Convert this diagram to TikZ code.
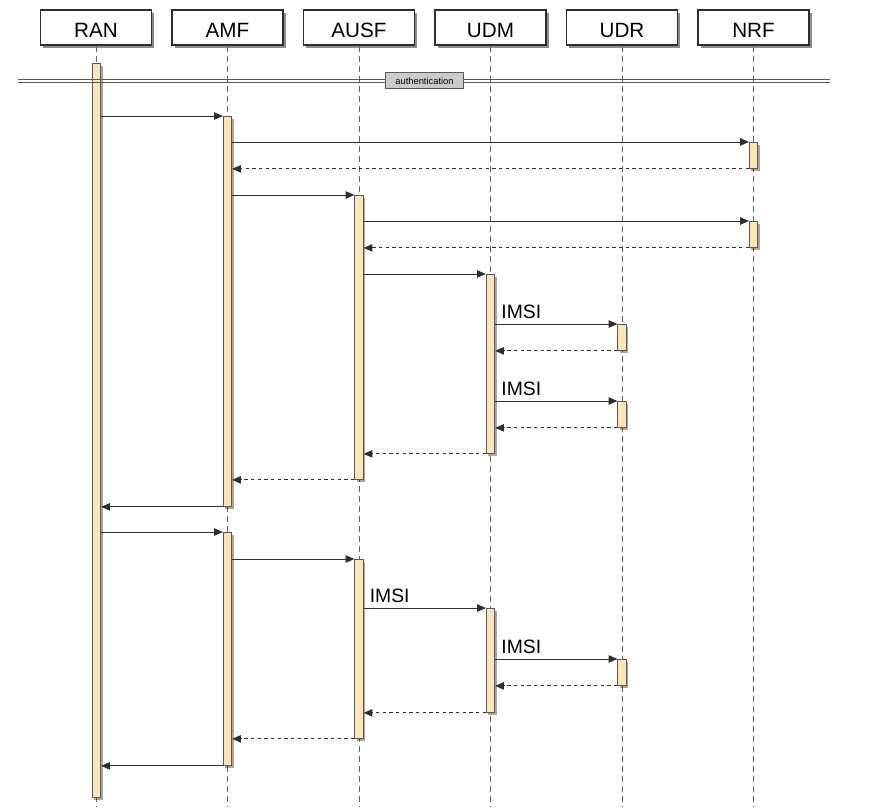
\documentclass[tikz,border=0pt]{standalone}
\usepackage{fontspec}
\setmainfont{Liberation Sans}
\usetikzlibrary{shadows,arrows.meta}
\definecolor{barfill}{HTML}{FFE4B5}
\definecolor{inkline}{HTML}{2E2E2E}
\definecolor{tagfill}{HTML}{CBCBCB}
% activation bar: name, x, top y, bottom y (pixel units)
\newcommand{\actbar}[4]{\node[actbar, minimum height={(#4-#3)*0.75}] (#1) at (#2,#3) {};}

\begin{document}
\begin{tikzpicture}[x=0.75pt,y=-0.75pt,
  participant/.style={draw=inkline, fill=white, line width=0.8pt,
    minimum width=83.25pt, minimum height=26.25pt, inner sep=0pt,
    text height=15.2pt, text depth=0pt,
    font=\fontsize{15.5}{18}\selectfont,
    drop shadow={shadow xshift=2.2pt, shadow yshift=-2.6pt, opacity=0.45, fill=black}},
  lifeline/.style={draw=black!60, line width=0.65pt, dash pattern=on 4.5pt off 3pt},
  actbar/.style={draw=black!65, fill=barfill, line width=0.65pt,
    minimum width=6.25pt, inner sep=0pt, anchor=north,
    drop shadow={shadow xshift=1.6pt, shadow yshift=-1.6pt, opacity=0.35, fill=black}},
  divider/.style={draw=black!65, line width=0.65pt},
  tag/.style={draw=black!65, fill=tagfill, line width=0.6pt, inner xsep=3pt,
    minimum width=59pt, minimum height=12pt, inner ysep=0pt,
    font=\fontsize{7}{8}\selectfont},
  msg/.style={draw=inkline, line width=0.7pt, -{Triangle[length=6.5pt,width=5.5pt]}},
  ret/.style={msg, dash pattern=on 2.5pt off 2.5pt},
  msglabel/.style={anchor=base west, inner sep=0pt, font=\fontsize{14.5}{16}\selectfont},
  ]
\useasboundingbox (0,0) rectangle (884,807);

% participants
\node[participant] (ran)  at (96,27.5)    {RAN};
\node[participant] (amf)  at (227.5,27.5) {AMF};
\node[participant] (ausf) at (359,27.5)   {AUSF};
\node[participant] (udm)  at (490.5,27.5) {UDM};
\node[participant] (udr)  at (622,27.5)   {UDR};
\node[participant] (nrf)  at (753.5,27.5) {NRF};

% lifelines
\coordinate (bottom) at (0,807);
\foreach \p in {ran,amf,ausf,udm,udr,nrf}
  \draw[lifeline] (\p.south) -- (\p.south |- bottom);

% activation bars
\actbar{ranA}{96.5}{63}{797}
\actbar{amfA}{227.5}{116}{506}
\actbar{nrfA}{753.5}{142}{168}
\actbar{ausfA}{359}{195}{479}
\actbar{nrfB}{753.5}{221}{247}
\actbar{udmA}{490.5}{274}{453}
\actbar{udrA}{622}{324}{350}
\actbar{udrB}{622}{401}{427}
\actbar{amfB}{227.5}{532}{765}
\actbar{ausfB}{359}{559}{738}
\actbar{udmB}{490.5}{608}{712}
\actbar{udrC}{622}{659}{685}

% section divider
\coordinate (divL) at (18,79);
\coordinate (divR) at (830,79);
\draw[divider] (divL) -- (divR);
\draw[divider] ([yshift=-2.6pt]divL) -- ([yshift=-2.6pt]divR);
\node[tag] (sect) at (424.5,80.7) {authentication};

% first exchange
\draw[msg] (ranA.east |- amfA.north) -- (amfA.north west);
\draw[msg] (amfA.east |- nrfA.north) -- (nrfA.north west);
\draw[ret] (nrfA.south west) -- (amfA.east |- nrfA.south);
\draw[msg] (amfA.east |- ausfA.north) -- (ausfA.north west);
\draw[msg] (ausfA.east |- nrfB.north) -- (nrfB.north west);
\draw[ret] (nrfB.south west) -- (ausfA.east |- nrfB.south);
\draw[msg] (ausfA.east |- udmA.north) -- (udmA.north west);
\draw[msg] (udmA.east |- udrA.north) -- (udrA.north west);
\node[msglabel] (l1) at ([xshift=4.5pt,yshift=3.8pt]udmA.east |- udrA.north) {IMSI};
\draw[ret] (udrA.south west) -- (udmA.east |- udrA.south);
\draw[msg] (udmA.east |- udrB.north) -- (udrB.north west);
\node[msglabel] (l2) at ([xshift=4.5pt,yshift=3.8pt]udmA.east |- udrB.north) {IMSI};
\draw[ret] (udrB.south west) -- (udmA.east |- udrB.south);
\draw[ret] (udmA.south west) -- (ausfA.east |- udmA.south);
\draw[ret] (ausfA.south west) -- (amfA.east |- ausfA.south);
\draw[msg] (amfA.south west) -- (ranA.east |- amfA.south);

% second exchange
\draw[msg] (ranA.east |- amfB.north) -- (amfB.north west);
\draw[msg] (amfB.east |- ausfB.north) -- (ausfB.north west);
\draw[msg] (ausfB.east |- udmB.north) -- (udmB.north west);
\node[msglabel] (l3) at ([xshift=4.5pt,yshift=3.8pt]ausfB.east |- udmB.north) {IMSI};
\draw[msg] (udmB.east |- udrC.north) -- (udrC.north west);
\node[msglabel] (l4) at ([xshift=4.5pt,yshift=3.8pt]udmB.east |- udrC.north) {IMSI};
\draw[ret] (udrC.south west) -- (udmB.east |- udrC.south);
\draw[ret] (udmB.south west) -- (ausfB.east |- udmB.south);
\draw[ret] (ausfB.south west) -- (amfB.east |- ausfB.south);
\draw[msg] (amfB.south west) -- (ranA.east |- amfB.south);
\end{tikzpicture}
\end{document}
